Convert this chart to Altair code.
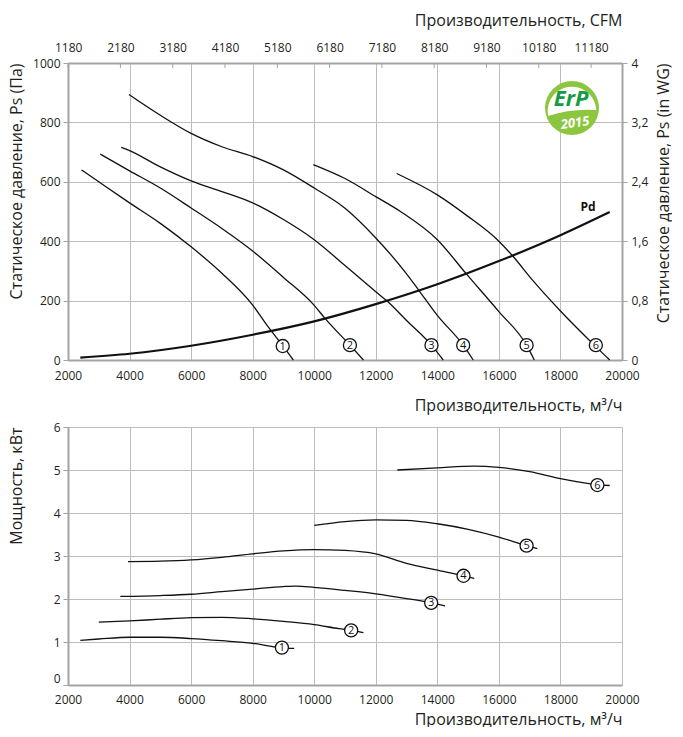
import altair as alt
import pandas as pd

# ---------------- data ----------------
# Top panel: static pressure Ps (Pa) vs airflow (m3/h)
ps1_q = [2440, 3000, 4000, 5000, 6000, 7000, 8000, 8500, 9000, 9320]
ps1_p = [640, 600, 529, 460, 381, 292, 185, 112, 45, 0]
ps2_q = [3050, 4000, 5000, 6000, 7000, 8000, 9000, 10000, 10350, 11160, 11600]
ps2_p = [693, 637, 579, 512, 443, 367, 278, 184, 140, 50, 0]
ps3_q = [3730, 4000, 5000, 6000, 7000, 8000, 9000, 10000, 11000, 12000, 12350, 13000, 13810, 14190]
ps3_p = [716, 705, 650, 603, 567, 529, 473, 405, 318, 230, 200, 133, 50, 0]
ps4_q = [3980, 5000, 6000, 7000, 8000, 9000, 10000, 11000, 12000, 13000, 13410, 14000, 14840, 15165]
ps4_p = [894, 824, 763, 718, 685, 640, 579, 511, 411, 290, 233, 150, 50, 0]
ps5_q = [9970, 11000, 12000, 12800, 14000, 14950, 16000, 16900, 17150]
ps5_p = [658, 611, 550, 500, 405, 289, 163, 50, 0]
ps6_q = [12680, 14000, 14950, 16000, 16450, 17100, 18000, 19100, 19600]
ps6_p = [628, 556, 487, 400, 350, 268, 165, 50, 0]
pd_q = [2400, 4000, 6000, 8000, 10000, 12000, 14000, 16000, 18000, 19600]
pd_p = [8, 21, 48, 85, 130, 188, 255, 333, 420, 498]

curve_names = ["1", "2", "3", "4", "5", "6"]
ps_label_q = [8977, 11160, 13810, 14840, 16900, 19150]
ps_label_p = [47, 50, 50, 50, 50, 50]
pd_label_q = [18900]
pd_label_p = [515]

# Bottom panel: power (kW) vs airflow (m3/h)
pw1_q = [2400, 3000, 4000, 5000, 6000, 7000, 8000, 8900, 9350]
pw1_w = [1.04, 1.07, 1.11, 1.11, 1.08, 1.03, 0.97, 0.87, 0.85]
pw2_q = [3000, 4000, 5000, 6000, 7000, 8000, 9000, 10000, 10800, 11200, 11600]
pw2_w = [1.46, 1.49, 1.53, 1.565, 1.575, 1.54, 1.48, 1.405, 1.31, 1.27, 1.22]
pw3_q = [3700, 5000, 6000, 7000, 8000, 9000, 9400, 10000, 11000, 12000, 13000, 13800, 14250]
pw3_w = [2.06, 2.08, 2.11, 2.17, 2.23, 2.29, 2.30, 2.27, 2.20, 2.12, 2.01, 1.91, 1.84]
pw4_q = [3950, 5000, 6000, 7000, 8000, 9000, 10000, 11000, 12000, 13000, 14000, 14850, 15200]
pw4_w = [2.87, 2.88, 2.91, 2.97, 3.05, 3.12, 3.15, 3.13, 3.05, 2.83, 2.67, 2.54, 2.48]
pw5_q = [10000, 11000, 12000, 13000, 14000, 15000, 16000, 16900, 17250]
pw5_w = [3.71, 3.80, 3.84, 3.83, 3.75, 3.62, 3.44, 3.24, 3.17]
pw6_q = [12700, 14000, 15200, 16000, 17000, 18000, 19200, 19600]
pw6_w = [5.00, 5.05, 5.09, 5.06, 4.96, 4.80, 4.66, 4.64]
pw_label_q = [8950, 11200, 13800, 14850, 16900, 19200]
pw_label_w = [0.87, 1.27, 1.91, 2.54, 3.24, 4.65]

# Axis ticks
q_ticks = [2000, 4000, 6000, 8000, 10000, 12000, 14000, 16000, 18000, 20000]
cfm_ticks = [1180, 2180, 3180, 4180, 5180, 6180, 7180, 8180, 9180, 10180, 11180]
pa_ticks = [0, 200, 400, 600, 800, 1000]
wg_ticks = [0, 0.8, 1.6, 2.4, 3.2, 4]
kw_ticks = [0, 1, 2, 3, 4, 5, 6]
M3H_PER_CFM = 1.699

# ---------------- tables ----------------
def to_long(series, vname):
    rows = []
    for name, qs, vs in series:
        for i, (q, v) in enumerate(zip(qs, vs)):
            rows.append({"curve": name, "q": q, vname: v, "i": i})
    return pd.DataFrame(rows)

ps_df = to_long(list(zip(curve_names, [ps1_q, ps2_q, ps3_q, ps4_q, ps5_q, ps6_q],
                         [ps1_p, ps2_p, ps3_p, ps4_p, ps5_p, ps6_p])), "p")
pd_df = pd.DataFrame({"q": pd_q, "p": pd_p})
ps_lab = pd.DataFrame({"curve": curve_names, "q": ps_label_q, "p": ps_label_p})
pd_lab = pd.DataFrame({"q": pd_label_q, "p": pd_label_p, "t": ["Pd"]})
pw_df = to_long(list(zip(curve_names, [pw1_q, pw2_q, pw3_q, pw4_q, pw5_q, pw6_q],
                         [pw1_w, pw2_w, pw3_w, pw4_w, pw5_w, pw6_w])), "w")
pw_lab = pd.DataFrame({"curve": curve_names, "q": pw_label_q, "w": pw_label_w})
cfm_df = pd.DataFrame({"cfm": cfm_ticks})
wg_df = pd.DataFrame({"wg": wg_ticks})
one = pd.DataFrame({"a": [0]})

FONT = "Open Sans"
TXT = "#231f20"
GRID = "#bdbdbd"
DOM = "#a3a3a3"
W, H1, H2 = 554, 297, 258

xscale = alt.Scale(domain=[2000, 20000], nice=False, zero=False)

def x_axis(label_pad, title_pad):
    return alt.Axis(values=q_ticks, format="d", title="Производительность, м³/ч",
                    titleAnchor="end", labelFlush=False, ticks=False,
                    labelPadding=label_pad, titlePadding=title_pad, grid=True)

# ---------------- top panel ----------------
xt = alt.X("q:Q", scale=xscale, axis=x_axis(10, 16))
yt = alt.Y("p:Q", scale=alt.Scale(domain=[0, 1000], nice=False),
           axis=alt.Axis(values=pa_ticks, format="d", title="Статическое давление, Ps (Па)",
                         titleAnchor="end", tickSize=5, labelPadding=3, titlePadding=8, grid=True))

ps_lines = alt.Chart(ps_df).mark_line(color="#111", strokeWidth=1.3, interpolate="monotone").encode(
    x=xt, y=yt, detail="curve:N", order="i:Q")
pd_line = alt.Chart(pd_df).mark_line(color="#111", strokeWidth=2.2, interpolate="monotone").encode(
    x="q:Q", y="p:Q")
ps_circ = alt.Chart(ps_lab).mark_point(shape="circle", size=170, filled=True, fill="white",
                                       stroke="#111", strokeWidth=1.3, opacity=1).encode(x="q:Q", y="p:Q")
ps_num = alt.Chart(ps_lab).mark_text(fontSize=11, font=FONT, color="#111", dy=0.5).encode(
    x="q:Q", y="p:Q", text="curve:N")
pd_txt = alt.Chart(pd_lab).mark_text(fontSize=12, font=FONT, fontWeight="bold", color="#111").encode(
    x="q:Q", y="p:Q", text="t:N")

# ErP 2015 badge (decoration, pixel placement inside plot)
LX, LY = 504, 45
badge_green = alt.Chart(one).mark_point(shape="circle", size=2916, filled=True, fill="#8cc63f",
                                        opacity=1, strokeWidth=0).encode(x=alt.value(LX), y=alt.value(LY))
badge_white = alt.Chart(one).mark_point(
    shape="M -0.88 0.3 A 0.9 0.9 0 1 1 0.9 0.08 L 1.1 0.1 Q 0.1 -0.02 -0.88 0.3 Z",
    size=2916, filled=True, fill="white", opacity=1, strokeWidth=0).encode(x=alt.value(LX), y=alt.value(LY))
badge_erp = alt.Chart(one).mark_text(text="ErP", fontSize=22, fontWeight="bold", fontStyle="italic",
                                     font=FONT, color="#169b45").encode(x=alt.value(LX - 1), y=alt.value(LY - 9))
badge_year = alt.Chart(one).mark_text(text="2015", fontSize=13, fontWeight="bold", fontStyle="italic",
                                      font=FONT, color="white", angle=352).encode(x=alt.value(LX + 3), y=alt.value(LY + 15))

main_top = alt.layer(ps_lines, pd_line, ps_circ, ps_num, pd_txt,
                     badge_green, badge_white, badge_erp, badge_year)

cfm_layer = alt.Chart(cfm_df).mark_rule(color=DOM, strokeWidth=1).encode(
    x=alt.X("cfm:Q", scale=alt.Scale(domain=[2000 / M3H_PER_CFM, 20000 / M3H_PER_CFM], nice=False, zero=False),
            axis=alt.Axis(orient="top", values=cfm_ticks, format="d", title="Производительность, CFM",
                          titleAnchor="end", labelFlush=False, ticks=False, labelPadding=9,
                          titlePadding=13, grid=False)),
    y=alt.value(0), y2=alt.value(5))

wg_layer = alt.Chart(wg_df).mark_rule(strokeOpacity=0).encode(
    y=alt.Y("wg:Q", scale=alt.Scale(domain=[0, 4], nice=False),
            axis=alt.Axis(orient="right", values=wg_ticks, title="Статическое давление, Ps (in WG)",
                          labelExpr="datum.value == 0 ? '0' : datum.value == 4 ? '4' : replace(format(datum.value, '.1f'), '.', ',')",
                          titleAnchor="end", titleAngle=270, titleBaseline="top", tickSize=5,
                          labelPadding=4, titlePadding=8, grid=False)))

top = alt.layer(main_top, cfm_layer, wg_layer).resolve_scale(
    x="independent", y="independent").properties(width=W, height=H1)

# ---------------- bottom panel ----------------
xb = alt.X("q:Q", scale=xscale, axis=x_axis(9, 6))
yb = alt.Y("w:Q", scale=alt.Scale(domain=[0, 6], nice=False),
           axis=alt.Axis(values=kw_ticks, format="d", title="Мощность, кВт", titleAnchor="end",
                         tickSize=5, labelPadding=3, titlePadding=29, grid=True,
                         labelOffset={"condition": {"test": "datum.value == 0", "value": -7}, "value": 0}))

pw_lines = alt.Chart(pw_df).mark_line(color="#111", strokeWidth=1.3, interpolate="monotone").encode(
    x=xb, y=yb, detail="curve:N", order="i:Q")
pw_circ = alt.Chart(pw_lab).mark_point(shape="circle", size=170, filled=True, fill="white",
                                       stroke="#111", strokeWidth=1.3, opacity=1).encode(x="q:Q", y="w:Q")
pw_num = alt.Chart(pw_lab).mark_text(fontSize=11, font=FONT, color="#111", dy=0.5).encode(
    x="q:Q", y="w:Q", text="curve:N")

bottom = alt.layer(pw_lines, pw_circ, pw_num).properties(width=W, height=H2)

chart = alt.vconcat(top, bottom, spacing=8).properties(
    padding={"left": 0, "right": 0, "top": 4, "bottom": 0}
).configure_view(strokeWidth=0).configure_axis(
    labelFont=FONT, titleFont=FONT, labelFontSize=12, titleFontSize=16, titleFontWeight="normal",
    labelColor=TXT, titleColor=TXT, gridColor=GRID, gridWidth=1, domainColor=DOM, domainWidth=2,
    tickColor=DOM, tickWidth=1)

chart.save("out.html", embed_options={"renderer": "svg", "actions": False})
